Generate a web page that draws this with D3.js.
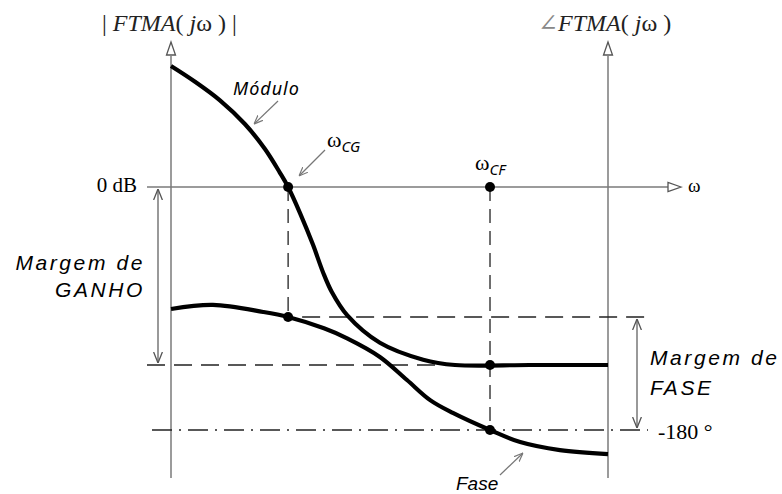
<!DOCTYPE html>
<html>
<head>
<meta charset="utf-8">
<script src="https://cdn.jsdelivr.net/npm/d3@7"></script>
<style>
  body { margin: 0; background: #fff; }
  svg { display: block; }
</style>
</head>
<body>
<svg id="bode"></svg>
<script>
// Magnitude curve (arbitrary log-omega units, dB)
const magOmega = [0, 0.55, 1.12, 1.69, 2.15, 2.49, 2.68, 2.95, 3.25, 3.48, 3.68, 4.03, 4.78, 5.77, 6.5, 8.2, 10];
const magDb = [13.6, 11.83, 9.74, 7.08, 4.27, 1.62, 0, -2.9, -6.5, -9.6, -11.8, -14.4, -17.5, -19.4, -20, -20, -20];

// Phase curve (degrees)
const phaseOmega = [0, 0.96, 2.11, 2.68, 3.5, 4.03, 4.78, 5.40, 5.93, 6.45, 7.30, 7.99, 8.90, 10];
const phaseDeg = [-131.8, -130.2, -133.0, -135, -139.5, -143.5, -150.9, -160.1, -168.1, -173.2, -180, -184.8, -188.0, -189.6];

// Crossover frequencies and margins
const wCG = 2.68;
const wCF = 7.30;
const gainMargin = 20;   // dB
const phaseMargin = 45;  // deg

function drawBode() {
    const W = 782, H = 494;
    const svg = d3.select("#bode").attr("width", W).attr("height", H);

    const x = d3.scaleLinear().domain([0, 10]).range([171, 608]);
    const yMag = d3.scaleLinear().domain([-gainMargin, 0]).range([365, 187]);
    const yPh = d3.scaleLinear().domain([-180, -180 + phaseMargin]).range([430, 317]);

    const axisColor = "#7a7a7a";
    const serif = "'Liberation Serif', 'DejaVu Serif', serif";
    const sans = "'Liberation Sans', Arial, sans-serif";

    // markers
    const defs = svg.append("defs");
    defs.append("marker")
        .attr("id", "vhead")
        .attr("viewBox", "0 0 10 10")
        .attr("refX", 10).attr("refY", 5)
        .attr("markerWidth", 11).attr("markerHeight", 11)
        .attr("markerUnits", "userSpaceOnUse")
        .attr("orient", "auto-start-reverse")
        .append("path")
        .attr("d", "M0,1 L10,5 L0,9")
        .attr("fill", "none")
        .attr("stroke", "#555")
        .attr("stroke-width", 1.2);

    defs.append("marker")
        .attr("id", "small")
        .attr("viewBox", "0 0 10 10")
        .attr("refX", 10).attr("refY", 5)
        .attr("markerWidth", 9).attr("markerHeight", 9)
        .attr("markerUnits", "userSpaceOnUse")
        .attr("orient", "auto")
        .append("path")
        .attr("d", "M0,1 L10,5 L0,9")
        .attr("fill", "none")
        .attr("stroke", "#777")
        .attr("stroke-width", 1.3);

    // open triangle arrowhead for the axes
    function triangle(tipX, tipY, dir) {
        const len = 13, half = 4.5;
        let pts;
        if (dir === "up") pts = [[tipX, tipY], [tipX - half, tipY + len], [tipX + half, tipY + len]];
        else pts = [[tipX, tipY], [tipX - len, tipY - half], [tipX - len, tipY + half]];
        svg.append("path")
            .attr("d", "M" + pts.map(p => p.join(",")).join("L") + "Z")
            .attr("fill", "#fff")
            .attr("stroke", "#555")
            .attr("stroke-width", 1.3);
    }

    // Axes
    svg.append("line")
        .attr("x1", x(0)).attr("x2", x(0))
        .attr("y1", 478).attr("y2", 56)
        .attr("stroke", axisColor).attr("stroke-width", 1.5);
    triangle(x(0), 42, "up");

    svg.append("line")
        .attr("x1", x(10)).attr("x2", x(10))
        .attr("y1", 478).attr("y2", 56)
        .attr("stroke", axisColor).attr("stroke-width", 1.5);
    triangle(x(10), 42, "up");

    svg.append("line")
        .attr("x1", 147).attr("x2", 668)
        .attr("y1", yMag(0)).attr("y2", yMag(0))
        .attr("stroke", axisColor).attr("stroke-width", 1.5);
    triangle(681, yMag(0), "right");

    // Dashed guides
    const dash = "14,8";
    svg.append("line")
        .attr("x1", x(wCG)).attr("x2", x(wCG))
        .attr("y1", yMag(0)).attr("y2", yPh(-180 + phaseMargin))
        .attr("stroke", "#222").attr("stroke-width", 1.3)
        .attr("stroke-dasharray", dash);
    svg.append("line")
        .attr("x1", x(wCF)).attr("x2", x(wCF))
        .attr("y1", yMag(0)).attr("y2", yPh(-180))
        .attr("stroke", "#222").attr("stroke-width", 1.3)
        .attr("stroke-dasharray", dash);
    svg.append("line")
        .attr("x1", 147).attr("x2", x(wCF))
        .attr("y1", yMag(-gainMargin)).attr("y2", yMag(-gainMargin))
        .attr("stroke", "#222").attr("stroke-width", 1.3)
        .attr("stroke-dasharray", "18,9");
    svg.append("line")
        .attr("x1", x(wCG) + 14).attr("x2", 646)
        .attr("y1", yPh(-180 + phaseMargin)).attr("y2", yPh(-180 + phaseMargin))
        .attr("stroke", "#222").attr("stroke-width", 1.3)
        .attr("stroke-dasharray", "18,9");
    svg.append("line")
        .attr("x1", 152).attr("x2", 648)
        .attr("y1", yPh(-180)).attr("y2", yPh(-180))
        .attr("stroke", "#222").attr("stroke-width", 1.3)
        .attr("stroke-dasharray", "20,7,2,7");

    // Curves
    const magLine = d3.line()
        .x((d, i) => x(magOmega[i]))
        .y(d => yMag(d))
        .curve(d3.curveCatmullRom.alpha(0.5));
    svg.append("path")
        .attr("d", magLine(magDb))
        .attr("fill", "none")
        .attr("stroke", "#000")
        .attr("stroke-width", 4.2);

    const phLine = d3.line()
        .x((d, i) => x(phaseOmega[i]))
        .y(d => yPh(d))
        .curve(d3.curveCatmullRom.alpha(0.5));
    svg.append("path")
        .attr("d", phLine(phaseDeg))
        .attr("fill", "none")
        .attr("stroke", "#000")
        .attr("stroke-width", 4.2);

    // Points
    const dots = [
        [x(wCG), yMag(0)],
        [x(wCF), yMag(0)],
        [x(wCG), yPh(-180 + phaseMargin)],
        [x(wCF), yMag(-gainMargin)],
        [x(wCF), yPh(-180)]
    ];
    svg.selectAll("circle.pt")
        .data(dots)
        .enter()
        .append("circle")
        .attr("class", "pt")
        .attr("cx", d => d[0])
        .attr("cy", d => d[1])
        .attr("r", 5)
        .attr("fill", "#000");

    // Margin dimension arrows
    svg.append("line")
        .attr("x1", 158).attr("x2", 158)
        .attr("y1", yMag(0) + 2).attr("y2", yMag(-gainMargin) - 2)
        .attr("stroke", "#555").attr("stroke-width", 1.2)
        .attr("marker-start", "url(#vhead)")
        .attr("marker-end", "url(#vhead)");
    svg.append("line")
        .attr("x1", 637).attr("x2", 637)
        .attr("y1", yPh(-180 + phaseMargin) + 2).attr("y2", yPh(-180) - 2)
        .attr("stroke", "#555").attr("stroke-width", 1.2)
        .attr("marker-start", "url(#vhead)")
        .attr("marker-end", "url(#vhead)");

    // Annotation arrows
    const notes = [
        [278, 101, 254, 124],
        [325, 150, 299, 176],
        [500, 475, 523, 453]
    ];
    svg.selectAll("line.note")
        .data(notes)
        .enter()
        .append("line")
        .attr("class", "note")
        .attr("x1", d => d[0]).attr("y1", d => d[1])
        .attr("x2", d => d[2]).attr("y2", d => d[3])
        .attr("stroke", "#777").attr("stroke-width", 1.2)
        .attr("marker-end", "url(#small)");

    // Axis titles
    const t1 = svg.append("text")
        .attr("x", 102).attr("y", 31)
        .style("font-family", serif).style("font-size", "24px").attr("fill", "#222");
    t1.append("tspan").text("| ");
    t1.append("tspan").style("font-style", "italic").text("FTMA");
    t1.append("tspan").text("( ");
    t1.append("tspan").style("font-style", "italic").text("j");
    t1.append("tspan").text("ω ) |");

    const t2 = svg.append("text")
        .attr("x", 538).attr("y", 31)
        .style("font-family", serif).style("font-size", "24px").attr("fill", "#222");
    t2.append("tspan").attr("fill", "#888").text("∠");
    t2.append("tspan").style("font-style", "italic").text("FTMA");
    t2.append("tspan").text("( ");
    t2.append("tspan").style("font-style", "italic").text("j");
    t2.append("tspan").text("ω )");

    svg.append("text")
        .attr("x", 137).attr("y", 192)
        .attr("text-anchor", "end")
        .style("font-family", serif).style("font-size", "21px")
        .text("0 dB");

    svg.append("text")
        .attr("x", 688).attr("y", 192)
        .style("font-family", serif).style("font-size", "19px")
        .text("ω");

    svg.append("text")
        .attr("x", 658).attr("y", 439)
        .style("font-family", serif).style("font-size", "22px")
        .text("-180 °");

    // omega labels
    const wcg = svg.append("text").attr("x", 327).attr("y", 147);
    wcg.append("tspan").style("font-family", serif).style("font-size", "22px").text("ω");
    wcg.append("tspan").attr("dy", 5).style("font-family", "'Noto Sans', sans-serif")
        .style("font-style", "italic").style("font-size", "15px").text("CG");

    const wcf = svg.append("text").attr("x", 475).attr("y", 170);
    wcf.append("tspan").style("font-family", serif).style("font-size", "22px").text("ω");
    wcf.append("tspan").attr("dy", 5).style("font-family", "'Noto Sans', sans-serif")
        .style("font-style", "italic").style("font-size", "15px").text("CF");

    svg.append("text")
        .attr("x", 233).attr("y", 95)
        .style("font-family", "'Noto Sans', sans-serif").style("font-style", "italic")
        .style("font-size", "18px").style("letter-spacing", "1px")
        .text("Módulo");

    svg.append("text")
        .attr("x", 456).attr("y", 490)
        .style("font-family", sans).style("font-style", "italic")
        .style("font-size", "19px")
        .text("Fase");

    // Margin labels
    const ganho = [["Margem de", 270], ["GANHO", 297]];
    ganho.forEach(([t, yy]) => {
        svg.append("text")
            .attr("x", 145).attr("y", yy)
            .attr("text-anchor", "end")
            .style("font-family", sans).style("font-style", "italic")
            .style("font-size", "21px").style("letter-spacing", "2.6px")
            .text(t);
    });
    const fase = [["Margem de", 365], ["FASE", 395]];
    fase.forEach(([t, yy]) => {
        svg.append("text")
            .attr("x", 650).attr("y", yy)
            .style("font-family", sans).style("font-style", "italic")
            .style("font-size", "21px").style("letter-spacing", "2.6px")
            .text(t);
    });
}

document.addEventListener("DOMContentLoaded", drawBode);
</script>
</body>
</html>
